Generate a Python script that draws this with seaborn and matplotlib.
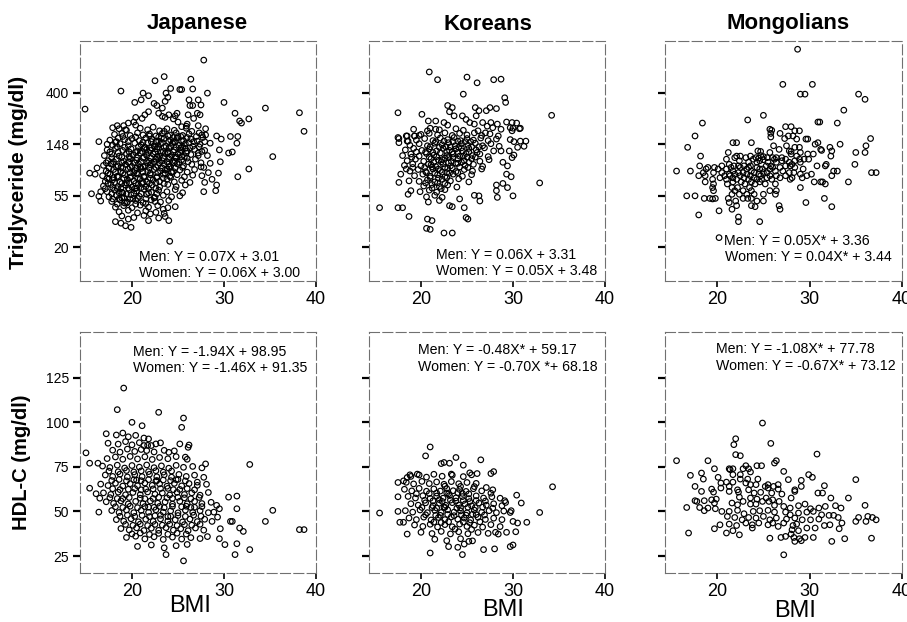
import matplotlib
matplotlib.use("Agg")
import matplotlib.pyplot as plt
import pandas as pd
import seaborn as sns

sns.set_style("ticks")
plt.rcParams["font.family"] = ["Liberation Sans", "DejaVu Sans"]
for key in ["text.color", "axes.labelcolor", "xtick.color", "ytick.color"]:
    plt.rcParams[key] = "black"

# ---------------- chart values ----------------
populations = ["Japanese", "Koreans", "Mongolians"]
bmi_ticks = [20, 30, 40]
tg_ticks = [3, 4, 5, 6]                 # natural log of triglyceride
tg_tick_labels = ["20", "55", "148", "400"]
hdl_ticks = [25, 50, 75, 100, 125]

tg_equations = [
    ("Men: Y = 0.07X + 3.01", "Women: Y = 0.06X + 3.00"),
    ("Men: Y = 0.06X + 3.31", "Women: Y = 0.05X + 3.48"),
    ("Men: Y = 0.05X* + 3.36", "Women: Y = 0.04X* + 3.44"),
]
hdl_equations = [
    ("Men: Y = -1.94X + 98.95", "Women: Y = -1.46X + 91.35"),
    ("Men: Y = -0.48X* + 59.17", "Women: Y = -0.70X *+ 68.18"),
    ("Men: Y = -1.08X* + 77.78", "Women: Y = -0.67X* + 73.12"),
]

# (BMI, ln TG) -- Japanese
jp_tg_points = [
    (14.9,5.68),(27.8,6.63),(23.5,6.31),(22.5,6.23),(26.4,6.26),(18.8,6.03),(21.2,5.99),(21.8,5.94),
    (24.2,6.08),(25.2,6.06),(25.4,6.06),(26.6,6.07),(28.2,5.99),(30.0,5.81),(20.3,5.81),(21.0,5.86),
    (23.7,5.99),(23.9,5.91),(23.6,5.83),(26.2,5.86),(27.2,5.86),(27.5,5.76),(31.2,5.60),(32.7,5.49),
    (31.7,5.45),(31.9,5.41),(34.5,5.70),(38.2,5.61),(38.7,5.25),(35.3,4.76),(32.7,4.52),(31.5,4.37),
    (29.6,4.66),(29.4,4.44),(29.2,4.21),(29.1,4.10),(27.8,4.08),(30.7,5.15),(31.4,5.02),(31.5,5.15),
    (30.9,4.85),(30.5,4.83),(29.2,5.16),(29.7,5.10),(28.5,4.63),(29.5,4.89),(24.1,3.12),(15.4,4.44),
    (16.0,4.42),(16.4,5.05),(17.3,5.00),(15.6,4.04),(16.6,4.08),(16.4,3.99),(16.6,3.90),(16.2,4.54),
    (17.9,5.32),(18.3,5.05),(18.2,3.50),(18.8,3.47),(19.3,3.42),(19.9,3.39),(19.6,3.55),(21.8,3.52),
    (22.0,3.65),(24.0,3.52),(23.6,3.60),(23.4,3.74),(22.5,3.89),(24.7,3.79),
    (26.3,5.75),(26.6,5.75),(27.1,5.60),(27.4,5.57),(26.7,5.50),(27.2,5.36),(26.1,5.57),
    (22.4,5.79),(22.7,5.75),(23.3,5.70),(22.9,5.60),(23.3,5.54),(23.6,5.52),(24.0,5.57),(24.7,5.55),
    (24.5,5.49),(25.0,5.43),(24.9,5.60),(25.4,5.34),(26.0,5.39),(21.8,5.63),(21.4,5.57),(21.1,5.50),
    (20.4,5.52),(20.2,5.43),(19.6,5.41),(19.1,5.36),(19.3,5.28),(20.4,5.37),(18.4,5.36),
    (18.6,5.30),(19.4,5.27),(20.9,5.31),(21.7,5.28),(22.3,5.33),(23.0,5.26),(23.8,5.30),(24.6,5.27),
    (25.9,5.31),(26.5,5.25),(27.3,5.22),
    (18.1,5.19),(18.9,5.21),(19.8,5.17),(20.6,5.22),(21.2,5.18),(21.9,5.20),(22.6,5.16),(23.3,5.21),
    (24.1,5.18),(24.8,5.22),(25.5,5.17),(26.2,5.20),(27.0,5.15),(28.0,5.18),
    (17.6,5.08),(18.5,5.12),(19.2,5.09),(20.0,5.11),(20.8,5.07),(21.5,5.12),(22.2,5.10),(22.9,5.06),
    (23.5,5.11),(24.2,5.08),(24.9,5.12),(25.6,5.07),(26.4,5.10),(27.1,5.06),(27.7,5.13),
    (17.9,4.98),(18.7,5.01),(19.6,4.97),(20.3,5.02),(21.0,4.99),(21.7,5.03),(22.4,4.97),(23.1,5.01),
    (23.7,4.96),(24.4,5.02),(25.1,4.98),(25.8,5.01),(26.6,4.96),(27.4,5.00),
    (17.3,4.89),(18.2,4.92),(19.0,4.88),(19.9,4.91),(20.6,4.87),(21.3,4.92),(22.0,4.88),(22.7,4.91),
    (23.4,4.86),(24.0,4.92),(24.6,4.89),(25.3,4.93),(26.0,4.87),(26.8,4.90),(27.6,4.86),
    (17.0,4.78),(17.8,4.81),(18.6,4.77),(19.4,4.82),(20.1,4.79),(20.9,4.83),(21.6,4.78),(22.3,4.81),
    (23.0,4.77),(23.6,4.82),(24.3,4.78),(25.0,4.81),(25.7,4.76),(26.4,4.80),(27.2,4.83),
    (17.4,4.68),(18.3,4.71),(19.1,4.67),(19.8,4.72),(20.5,4.69),(21.2,4.73),(21.9,4.67),(22.6,4.71),
    (23.3,4.68),(24.0,4.72),(24.7,4.67),(25.4,4.70),(26.1,4.66),(26.9,4.71),
    (16.9,4.59),(17.7,4.62),(18.5,4.58),(19.3,4.61),(20.0,4.57),(20.7,4.62),(21.4,4.58),(22.1,4.63),
    (22.8,4.59),(23.5,4.61),(24.2,4.57),(24.9,4.62),(25.6,4.58),(26.5,4.61),(27.5,4.56),
    (17.2,4.48),(18.0,4.51),(18.8,4.47),(19.6,4.52),(20.3,4.49),(21.0,4.53),(21.7,4.47),(22.4,4.51),
    (23.1,4.48),(23.8,4.52),(24.5,4.47),(25.2,4.50),(26.0,4.46),(26.8,4.51),
    (16.8,4.39),(17.6,4.42),(18.4,4.38),(19.2,4.41),(19.9,4.37),(20.6,4.42),(21.3,4.38),(22.0,4.41),
    (22.7,4.37),(23.4,4.42),(24.1,4.38),(24.9,4.41),(25.7,4.37),(26.6,4.40),
    (17.1,4.28),(17.9,4.31),(18.7,4.27),(19.5,4.32),(20.2,4.29),(20.9,4.33),(21.6,4.27),(22.3,4.31),
    (23.0,4.28),(23.8,4.32),(24.6,4.27),(25.4,4.30),(26.3,4.26),
    (16.9,4.19),(17.7,4.22),(18.5,4.18),(19.3,4.21),(20.0,4.17),(20.7,4.22),(21.5,4.18),(22.2,4.21),
    (23.0,4.17),(23.9,4.22),(24.8,4.18),(25.8,4.21),
    (17.3,4.08),(18.1,4.11),(18.9,4.07),(19.7,4.12),(20.5,4.09),(21.3,4.13),(22.1,4.07),(22.9,4.11),
    (23.8,4.08),(24.7,4.12),(25.5,4.06),
    (17.5,3.98),(18.3,4.01),(19.1,3.97),(19.9,4.02),(20.8,3.99),(21.6,4.03),(22.5,3.97),(23.4,4.01),
    (24.3,3.98),(25.2,4.00),
    (17.8,3.89),(18.7,3.92),(19.5,3.88),(20.4,3.91),(21.2,3.87),(22.1,3.92),(23.1,3.88),(24.0,3.91),
    (18.2,3.78),(19.1,3.81),(20.0,3.77),(20.9,3.82),(21.8,3.78),(22.8,3.81),(23.9,3.77),
    (18.6,3.69),(19.6,3.72),(20.6,3.67),(21.5,3.71),(22.6,3.68),(23.5,3.66),
    (18.9,3.61),(20.2,3.58),(21.3,3.62),(22.9,3.57),
    (18.0,4.35),(18.8,4.55),(19.4,4.25),(19.0,4.05),(20.2,4.45),(20.5,4.15),(19.7,4.66),(18.4,4.14),
    (17.9,4.62),(20.9,4.56),(19.2,3.86),(20.1,3.95),(18.6,3.95),(21.1,4.24),(17.5,4.33),
    (22.5,4.95),(23.2,5.12),(23.9,4.85),(24.5,5.05),(22.9,4.72),(24.0,4.62),(24.7,4.75),(25.3,4.88),
    (23.5,5.25),(22.1,5.05),(25.0,5.15),(25.8,4.92),(24.3,4.45),(23.6,4.50),(22.0,4.60),(21.6,4.90),
    (26.0,4.73),(25.5,4.55),(26.7,5.05),(25.9,5.35),
    (27.6,5.18),(27.9,5.05),(27.3,4.95),(27.9,4.88),(28.2,4.78),(27.2,4.78),(27.5,4.64),(27.8,4.55),
    (28.3,4.45),(27.6,4.39),(27.9,4.26),(28.7,4.32),(28.0,5.30),(28.5,5.02),
    (19.0,5.15),(20.4,5.14),(21.9,5.16),(22.9,5.14),(23.9,5.16),(24.5,5.13),(25.3,5.15),(26.0,5.13),
    (18.2,5.04),(19.6,5.05),(21.2,5.04),(22.6,5.05),(23.3,5.03),(24.0,5.05),(24.7,5.04),(25.4,5.06),
    (26.2,5.03),(18.4,4.95),(19.2,4.94),(20.7,4.95),(21.4,4.94),(22.1,4.93),(22.8,4.95),(23.5,4.94),
    (24.2,4.96),(24.8,4.94),(25.5,4.95),(26.3,4.93),
    (17.6,4.85),(18.5,4.84),(19.7,4.85),(20.4,4.84),(21.1,4.86),(21.8,4.84),(22.5,4.85),(23.2,4.84),
    (23.9,4.83),(24.5,4.85),(25.2,4.84),(25.9,4.83),
    (17.8,4.74),(18.9,4.75),(19.7,4.76),(20.5,4.74),(21.3,4.75),(22.0,4.74),(22.7,4.76),(23.4,4.74),
    (24.1,4.75),(24.8,4.74),(25.4,4.76),
    (17.2,4.64),(18.0,4.66),(18.9,4.64),(19.6,4.65),(20.3,4.64),(21.0,4.66),(21.7,4.64),(22.4,4.65),
    (23.0,4.64),(23.8,4.66),(24.5,4.64),(25.1,4.65),
    (17.5,4.54),(18.3,4.56),(19.0,4.54),(19.8,4.55),(20.5,4.54),(21.2,4.56),(21.9,4.54),(22.6,4.55),
    (23.3,4.54),(24.0,4.56),(24.7,4.54),
    (17.4,4.44),(18.2,4.46),(19.0,4.44),(19.8,4.45),(20.5,4.44),(21.2,4.46),(22.0,4.44),(22.8,4.45),
    (23.6,4.44),(24.3,4.46),
    (17.3,4.34),(18.5,4.36),(19.1,4.34),(19.8,4.35),(20.6,4.34),(21.3,4.36),(22.0,4.34),(22.7,4.35),
    (23.4,4.34),(24.2,4.36),
    (17.4,4.24),(18.1,4.26),(18.9,4.24),(19.7,4.25),(20.4,4.24),(21.2,4.26),(21.9,4.24),(22.6,4.25),
    (23.5,4.24),
    (17.1,4.14),(17.9,4.16),(18.8,4.14),(19.6,4.15),(20.3,4.14),(21.0,4.16),(21.8,4.14),(22.6,4.15),
    (17.8,4.04),(18.6,4.06),(19.4,4.04),(20.2,4.05),(21.0,4.04),(21.8,4.06),(22.7,4.04),
    (17.9,3.94),(18.9,3.96),(19.8,3.94),(20.6,3.95),(21.5,3.94),(22.4,3.96),
    (18.4,3.84),(19.4,3.86),(20.4,3.84),(21.5,3.85),
]

# (BMI, ln TG) -- Koreans
ko_tg_points = [
    (20.9,6.40),(21.8,6.25),(25.0,6.30),(26.1,6.19),(27.9,6.25),(28.7,6.26),(24.6,5.97),(29.1,5.90),
    (29.2,5.81),(34.2,5.56),(32.9,4.25),(30.0,4.00),(15.5,3.77),(17.5,3.77),(18.0,3.77),(18.7,3.60),
    (20.7,3.55),(21.2,3.52),(20.6,3.37),(21.0,3.35),(22.5,3.28),(23.4,3.28),(17.5,5.61),(20.1,5.58),
    (22.9,5.75),(23.4,5.71),(23.1,5.63),(23.6,5.55),(25.9,5.71),(26.3,5.65),(27.1,5.65),(27.5,5.71),
    (28.2,5.69),(20.8,5.45),(21.6,5.45),(22.5,5.42),(22.9,5.37),(24.5,5.55),(24.9,5.48),(25.3,5.42),
    (25.8,5.39),(26.0,5.55),(26.7,5.42),(27.2,5.35),(27.6,5.42),(27.8,5.32),(28.3,5.39),(28.7,5.29),
    (29.3,5.43),(29.9,5.42),(29.7,5.32),(29.9,5.26),(30.7,5.30),(17.6,5.11),(18.4,5.16),(18.5,5.06),
    (19.3,5.16),(19.2,5.29),(20.0,5.19),(20.7,5.26),(21.6,5.29),
    (30.4,5.41),(30.8,5.31),(30.0,5.31),(29.7,5.09),(30.1,5.05),(30.8,5.06),(31.4,5.06),(31.2,4.96),
    (30.5,4.94),(29.6,4.87),(30.1,4.79),(29.9,4.74),(28.7,4.87),(28.9,4.65),(29.4,4.58),(29.3,4.42),
    (29.8,4.37),(28.9,4.24),(28.2,4.21),(29.4,4.16),(28.2,4.10),(28.3,3.97),(26.3,4.00),(26.4,3.90),
    (25.8,4.01),(24.2,3.94),(23.1,3.81),(23.4,3.79),(24.7,3.77),(24.9,3.58),(25.1,3.55),
    (17.5,5.13),(17.6,5.03),(18.5,5.16),(18.6,5.06),(19.3,5.16),(17.8,4.42),(17.6,4.26),(18.4,4.52),
    (18.7,4.29),(18.9,4.10),(18.6,4.03),
    (21.0,5.31),(22.0,5.28),(23.8,5.30),(24.6,5.27),(26.2,5.26),(27.0,5.22),
    (19.8,5.17),(20.9,5.21),(21.8,5.18),(22.6,5.22),(23.4,5.17),(24.2,5.21),(25.0,5.18),(25.8,5.22),
    (26.6,5.17),(27.5,5.20),(28.4,5.16),
    (19.5,5.08),(20.4,5.11),(21.3,5.07),(22.1,5.12),(22.9,5.09),(23.6,5.13),(24.3,5.07),(25.0,5.11),
    (25.7,5.08),(26.5,5.12),(27.3,5.07),(28.2,5.10),
    (18.8,4.98),(19.8,5.01),(20.7,4.97),(21.5,5.02),(22.3,4.99),(23.0,5.03),(23.7,4.97),(24.4,5.01),
    (25.1,4.98),(25.9,5.02),(26.7,4.97),(27.6,5.01),(28.5,4.96),
    (18.3,4.89),(19.2,4.92),(20.1,4.88),(20.9,4.91),(21.7,4.87),(22.4,4.92),(23.1,4.88),(23.8,4.91),
    (24.5,4.87),(25.2,4.92),(26.0,4.89),(26.9,4.93),(27.9,4.87),
    (18.0,4.78),(18.9,4.81),(19.8,4.77),(20.6,4.82),(21.4,4.79),(22.1,4.83),(22.8,4.78),(23.5,4.81),
    (24.2,4.77),(24.9,4.82),(25.6,4.78),(26.4,4.81),(27.3,4.76),
    (18.5,4.68),(19.4,4.71),(20.3,4.67),(21.1,4.72),(21.9,4.69),(22.6,4.73),(23.3,4.67),(24.0,4.71),
    (24.7,4.68),(25.5,4.72),(26.4,4.67),(27.4,4.70),
    (18.2,4.59),(19.1,4.62),(20.0,4.58),(20.8,4.61),(21.6,4.57),(22.4,4.62),(23.2,4.58),(24.0,4.63),
    (24.8,4.59),(25.7,4.61),(26.7,4.57),
    (18.8,4.48),(19.7,4.51),(20.5,4.47),(21.3,4.52),(22.1,4.49),(22.9,4.53),(23.8,4.47),(24.7,4.51),
    (25.6,4.48),(26.6,4.52),
    (19.3,4.39),(20.2,4.42),(21.0,4.38),(21.8,4.41),(22.6,4.37),(23.5,4.42),(24.5,4.38),(25.5,4.41),
    (19.8,4.28),(20.7,4.31),(21.5,4.27),(22.3,4.32),(23.2,4.29),(24.1,4.33),(25.2,4.27),
    (20.3,4.19),(21.2,4.22),(22.0,4.18),(22.9,4.21),(23.9,4.17),
    (19.9,4.08),(20.9,4.11),(21.7,4.07),(22.6,4.12),
    (20.6,3.98),(21.5,4.01),(22.3,3.97),(20.8,3.88),(22.0,3.91),
    (22.7,4.95),(23.4,4.85),(24.1,4.94),(23.0,4.74),(23.8,4.63),(24.6,4.77),(22.3,4.70),(23.5,5.05),
    (24.8,5.05),(21.9,4.52),(22.8,4.45),(21.1,4.60),
    (21.6,5.05),(22.5,5.06),(24.0,5.06),(25.4,5.05),(21.0,4.95),(22.0,4.94),(23.2,4.95),(24.4,4.93),
    (25.5,4.95),(26.3,4.95),(20.5,4.85),(21.3,4.84),(22.8,4.86),(24.0,4.84),(25.2,4.85),(26.1,4.84),
    (20.9,4.75),(21.7,4.76),(23.5,4.74),(25.0,4.75),(25.9,4.75),(21.4,4.65),(22.2,4.66),(23.0,4.64),
    (24.4,4.65),(25.2,4.65),(20.4,4.55),(21.2,4.56),(22.6,4.55),(23.4,4.54),(24.2,4.56),(25.1,4.55),
    (20.6,4.45),(21.5,4.44),(22.3,4.46),(23.1,4.44),(24.0,4.45),(21.0,4.35),(21.9,4.34),(22.8,4.35),
    (20.5,4.25),(21.8,4.25),(22.6,4.24),(21.2,4.15),(22.2,4.14),(19.0,4.75),(19.5,4.85),(19.1,4.55),
]

# (BMI, ln TG) -- Mongolians
mo_tg_points = [
    (28.7,6.84),(27.1,6.16),(30.3,6.16),(29.0,5.97),(29.5,5.97),(35.3,5.97),(36.0,5.87),(33.7,5.66),
    (25.0,5.56),(23.3,5.47),(30.9,5.43),(31.1,5.43),(18.4,5.41),(33.0,5.41),
    (27.4,5.34),(28.0,5.34),(25.7,5.29),(25.9,5.27),(28.4,5.26),(28.9,5.26),(25.8,5.21),(26.8,5.21),
    (17.6,5.16),(27.7,5.16),(28.2,5.16),(25.8,5.14),(27.3,5.11),(36.6,5.11),(29.6,5.10),(29.8,5.10),
    (28.6,5.10),(21.7,5.03),(22.1,5.03),(23.7,5.03),(30.9,5.03),(30.6,5.00),(33.3,5.00),(26.1,4.97),
    (27.5,4.97),(36.1,4.97),(16.8,4.94),(28.4,4.94),(32.2,4.94),(28.9,4.94),(26.7,4.90),(31.2,4.90),
    (31.3,4.88),(27.8,4.87),(28.0,4.86),(24.4,4.87),(24.7,4.86),(32.4,4.87),(21.2,4.84),(25.7,4.84),
    (29.0,4.84),(35.0,4.84),(36.0,4.84),(28.0,4.81),(29.8,4.81),(30.4,4.81),
    (18.2,4.77),(22.1,4.77),(22.5,4.77),(23.6,4.77),(24.7,4.78),(25.0,4.76),(28.6,4.77),(32.3,4.77),
    (21.9,4.74),(23.1,4.74),(24.2,4.74),(24.5,4.73),(25.4,4.74),(26.0,4.74),(26.4,4.74),(27.0,4.74),
    (21.0,4.71),(23.9,4.71),(25.0,4.70),(26.2,4.71),(27.4,4.71),(28.9,4.71),(29.4,4.71),(29.9,4.71),
    (22.4,4.68),(24.6,4.68),(27.0,4.68),(28.4,4.68),
    (23.4,4.65),(24.3,4.65),(25.5,4.65),(26.4,4.65),(27.8,4.65),(29.0,4.65),
    (21.3,4.61),(28.1,4.61),(31.8,4.61),(34.9,4.61),
    (18.1,4.58),(20.5,4.58),(21.8,4.58),(22.3,4.58),(22.9,4.58),(23.6,4.58),(25.3,4.58),(25.8,4.58),
    (27.4,4.58),(27.9,4.58),(30.8,4.58),(31.7,4.58),
    (19.0,4.55),(19.7,4.55),(21.5,4.55),(22.5,4.55),(23.4,4.55),(24.3,4.55),(26.0,4.55),(26.8,4.55),
    (28.4,4.55),
    (18.8,4.52),(20.1,4.52),(21.0,4.52),(23.2,4.52),(24.6,4.52),(24.9,4.52),(25.7,4.52),(29.3,4.52),
    (32.6,4.48),(33.0,4.48),(17.1,4.48),(15.6,4.48),(21.7,4.48),(23.7,4.48),(26.3,4.48),(27.1,4.48),
    (18.5,4.45),(19.6,4.45),(20.5,4.45),(22.3,4.45),(22.8,4.45),(24.0,4.45),(25.0,4.45),(25.4,4.45),
    (27.8,4.45),(28.3,4.45),(36.7,4.45),(37.2,4.45),
    (21.3,4.42),(21.9,4.42),(23.2,4.42),(24.5,4.42),(29.0,4.42),(30.2,4.42),
    (18.0,4.39),(18.7,4.39),(20.8,4.39),(21.4,4.39),(22.5,4.39),(23.6,4.39),(24.7,4.39),(25.7,4.39),
    (26.4,4.39),(27.4,4.39),(29.7,4.39),(32.4,4.39),
    (20.3,4.35),(21.7,4.35),(22.9,4.35),(24.0,4.35),(25.4,4.35),(26.8,4.35),(28.1,4.35),(29.2,4.35),
    (19.5,4.32),(21.0,4.32),(22.1,4.32),(23.4,4.32),(24.3,4.32),(24.8,4.32),(25.9,4.32),(27.9,4.32),
    (18.7,4.27),(21.7,4.27),(22.6,4.27),(23.7,4.27),(24.6,4.27),(30.5,4.27),(31.2,4.27),(31.4,4.27),
    (34.2,4.27),
    (19.6,4.23),(21.1,4.23),(23.0,4.23),(24.1,4.23),(25.2,4.23),(26.3,4.23),(31.7,4.23),
    (19.5,4.16),(21.6,4.16),(22.2,4.16),(23.5,4.16),(29.0,4.16),
    (19.6,4.10),(21.9,4.10),(22.8,4.10),(23.7,4.10),(25.7,4.10),(26.4,4.10),
    (21.6,4.03),(22.4,4.03),(23.2,4.03),(24.0,4.03),(25.0,4.03),(26.3,4.03),
    (16.7,4.00),(17.6,4.00),
    (18.6,3.95),(19.2,3.95),(19.5,3.94),(19.8,3.95),(21.2,3.95),(22.8,3.95),(23.3,3.95),(23.7,3.95),
    (31.6,3.95),(22.0,3.90),(24.3,3.90),(25.0,3.90),(21.3,3.87),(29.6,3.87),
    (22.1,3.81),(23.7,3.81),(26.7,3.81),(32.4,3.79),(24.1,3.79),(26.8,3.74),(21.6,3.74),
    (20.2,3.71),(18.0,3.63),(22.3,3.59),(22.3,3.50),(24.6,3.50),(20.2,3.19),
]

# (BMI, HDL-C mg/dl) -- Japanese
jp_hdl_points = [
    (19.1,119.1),(18.4,107.0),(22.9,105.5),(25.6,102.3),(25.4,97.1),(20.0,99.9),(21.1,98.0),
    (15.0,82.8),(15.4,77.0),(16.3,77.0),(15.4,63.0),(16.1,59.9),(16.4,49.6),(16.5,57.4),
    (32.8,76.3),(30.5,58.0),(31.4,58.6),(31.4,51.5),(30.7,44.4),(30.9,44.4),(29.6,40.3),(29.5,34.7),
    (30.1,31.4),(31.4,31.9),(31.2,25.8),(32.8,28.6),(32.1,38.8),(31.7,40.7),(35.3,50.6),(34.5,44.4),
    (38.2,39.8),(38.7,39.8),(25.6,22.3),(23.7,25.8),(28.9,49.6),(29.2,53.4),(29.5,51.5),(29.3,46.8),
    (28.0,76.6),(27.1,66.4),(26.1,85.9),(25.8,80.4),(26.2,87.2),(25.2,87.8),(24.0,83.1),(21.8,90.6),
    (22.1,86.9),(22.6,87.8),(21.3,86.9),(21.6,84.1),
    (17.2,93.5),(18.3,92.8),(19.0,93.9),(19.6,91.8),(20.4,92.6),(21.3,91.1),
    (17.4,88.2),(18.5,87.7),(19.3,89.1),(20.0,87.3),(20.8,88.5),(21.7,87.0),(23.1,88.4),
    (17.9,84.3),(18.7,83.2),(19.5,84.9),(20.3,83.6),(21.0,84.7),(22.4,83.3),(23.5,84.2),(24.6,83.9),
    (17.3,79.6),(18.2,80.5),(19.0,79.2),(19.8,80.8),(20.6,79.4),(21.4,80.6),(22.2,79.1),(23.0,80.2),
    (23.9,79.5),(24.8,80.7),(26.0,79.2),
    (16.8,75.4),(17.6,74.6),(18.4,75.9),(19.2,74.3),(20.0,75.7),(20.8,74.8),(21.6,76.0),(22.4,74.5),
    (23.2,75.5),(24.0,74.2),(24.8,75.8),(25.6,74.7),(26.6,75.2),(27.6,74.4),
    (17.1,70.4),(17.9,69.6),(18.7,70.9),(19.5,69.3),(20.3,70.6),(21.1,69.5),(21.9,70.8),(22.7,69.4),
    (23.5,70.5),(24.3,69.2),(25.1,70.7),(25.9,69.6),(26.8,70.3),(27.8,69.1),
    (16.6,65.3),(17.4,64.5),(18.2,65.8),(19.0,64.2),(19.8,65.5),(20.6,64.4),(21.4,65.9),(22.2,64.6),
    (23.0,65.4),(23.8,64.1),(24.6,65.7),(25.4,64.3),(26.2,65.6),(27.1,64.6),(28.1,65.2),
    (16.9,60.4),(17.7,59.5),(18.5,60.8),(19.3,59.3),(20.1,60.6),(20.9,59.4),(21.7,60.9),(22.5,59.6),
    (23.3,60.3),(24.1,59.2),(24.9,60.7),(25.7,59.5),(26.5,60.4),(27.4,59.1),(28.3,60.6),
    (17.2,55.4),(18.0,54.5),(18.8,55.9),(19.6,54.2),(20.4,55.6),(21.2,54.4),(22.0,55.8),(22.8,54.6),
    (23.6,55.3),(24.4,54.1),(25.2,55.7),(26.0,54.3),(26.8,55.6),(27.6,54.4),(28.6,55.1),
    (17.8,50.5),(18.6,49.4),(19.4,50.8),(20.2,49.3),(21.0,50.6),(21.8,49.5),(22.6,50.9),(23.4,49.6),
    (24.2,50.3),(25.0,49.2),(25.8,50.7),(26.6,49.5),(27.4,50.4),(28.3,49.3),
    (18.3,45.4),(19.1,44.5),(19.9,45.9),(20.7,44.2),(21.5,45.6),(22.3,44.4),(23.1,45.8),(23.9,44.6),
    (24.7,45.3),(25.5,44.1),(26.3,45.7),(27.1,44.3),(27.9,45.6),(28.7,44.4),
    (18.8,40.4),(19.7,39.6),(20.5,40.8),(21.3,39.3),(22.1,40.6),(22.9,39.4),(23.7,40.9),(24.5,39.5),
    (25.3,40.3),(26.1,39.2),(26.9,40.7),(27.8,39.5),
    (19.4,35.4),(20.4,36.1),(21.4,34.6),(22.4,35.8),(23.4,34.3),(24.4,35.6),(25.4,34.5),(26.4,35.3),
    (27.4,34.8),(28.2,35.9),
    (20.6,30.4),(22.1,31.2),(23.5,29.6),(24.8,30.8),(26.0,31.5),
    (21.5,62.5),(22.3,57.2),(23.1,62.8),(23.8,57.6),(24.5,62.2),(22.7,67.3),(21.8,52.4),(23.0,52.8),
    (24.2,47.3),(25.4,52.6),(22.5,47.6),(20.9,57.4),(25.0,57.9),(26.4,52.2),(24.8,67.8),(20.5,67.5),
    (19.6,62.4),(19.0,57.2),
    (17.5,72.6),(18.5,72.2),(19.4,72.9),(20.2,72.1),(21.0,72.7),(21.8,72.3),(22.6,72.8),(23.4,72.0),
    (24.3,72.6),(17.8,67.3),(18.6,67.9),(19.4,67.1),(20.2,67.7),(21.0,67.2),(21.8,67.8),(22.6,67.0),
    (23.4,67.6),(24.2,67.2),(25.0,67.9),(25.8,67.1),
    (17.9,62.7),(18.7,62.2),(20.3,62.8),(21.0,62.1),(22.3,62.6),(23.9,62.9),(25.2,62.3),(26.0,62.8),
    (26.8,62.1),(17.6,57.7),(18.4,57.2),(19.7,57.8),(21.4,57.1),(22.9,57.9),(24.4,57.3),(25.7,57.6),
    (26.4,57.1),(27.3,57.8),
    (18.2,52.6),(19.0,52.2),(19.8,52.9),(20.6,52.1),(21.4,52.7),(22.4,52.3),(23.5,52.1),(24.4,52.8),
    (25.9,52.9),(26.8,52.3),(27.6,52.7),
    (18.7,47.3),(19.5,47.9),(20.3,47.2),(21.1,47.8),(21.9,47.1),(23.1,47.8),(23.9,47.1),(25.0,47.7),
    (25.8,47.2),(26.7,47.9),(27.5,47.3),
    (19.3,42.7),(20.1,42.2),(20.9,42.9),(21.7,42.1),(22.5,42.7),(23.3,42.3),(24.1,42.8),(24.9,42.1),
    (25.7,42.6),(26.5,42.3),(27.4,42.8),
    (20.0,37.4),(20.9,37.9),(21.9,37.1),(22.9,37.7),(23.9,37.2),(24.9,37.8),(25.9,37.3),
]

# (BMI, HDL-C mg/dl) -- Koreans
ko_hdl_points = [
    (21.0,86.1),(20.5,81.1),(23.8,80.2),(26.5,78.9),(22.2,76.8),(22.5,77.4),(23.1,77.0),(24.6,75.9),
    (23.3,70.9),(25.5,70.5),(26.1,71.2),(27.6,71.2),(27.9,72.3),(27.1,63.4),(27.6,60.2),(29.1,56.0),
    (29.2,55.0),(29.8,50.4),(29.7,49.4),(30.4,59.1),(30.9,54.7),(32.9,49.4),(34.3,63.8),(15.5,49.1),
    (17.5,50.0),(18.5,37.3),(21.0,26.7),(24.5,25.8),(26.8,28.6),(28.0,29.0),(29.7,30.3),(30.0,31.2),
    (23.0,30.3),(24.0,29.9),(24.7,31.7),(25.2,33.2),(28.1,38.3),(28.4,37.3),(29.3,38.3),(30.3,38.6),
    (30.5,43.5),(30.0,44.4),(31.5,43.9),(17.5,66.2),(18.1,67.1),(18.5,69.0),(18.8,70.5),(19.6,70.9),
    (17.5,58.2),(17.7,43.9),(18.1,43.9),
    (18.9,69.6),(19.8,70.4),(20.6,69.2),(21.4,70.8),(22.3,69.7),(23.4,70.3),(24.6,69.5),(25.3,71.6),
    (18.4,66.3),(19.2,65.4),(20.1,66.8),(20.9,65.6),(21.7,66.5),(22.5,65.2),(23.3,66.7),(24.1,65.5),
    (25.0,66.2),(26.0,65.7),
    (18.2,62.4),(19.0,61.5),(19.8,62.9),(20.6,61.3),(21.4,62.6),(22.1,61.4),(22.8,62.8),(23.5,61.6),
    (24.2,62.3),(24.9,61.2),(25.7,62.7),(26.6,61.5),(27.8,62.1),
    (18.6,58.4),(19.4,57.5),(20.2,58.8),(21.0,57.3),(21.7,58.6),(22.4,57.4),(23.1,58.9),(23.8,57.6),
    (24.5,58.3),(25.2,57.2),(26.0,58.7),(26.8,57.5),(27.7,58.2),(28.6,57.4),
    (18.9,54.3),(19.7,53.5),(20.5,54.8),(21.3,53.2),(22.0,54.6),(22.7,53.4),(23.4,54.9),(24.1,53.6),
    (24.8,54.2),(25.5,53.1),(26.3,54.7),(27.1,53.5),(27.9,54.3),(28.8,53.2),
    (18.3,50.4),(19.1,49.6),(19.9,50.8),(20.7,49.3),(21.5,50.6),(22.2,49.4),(22.9,50.9),(23.6,49.6),
    (24.3,50.3),(25.0,49.2),(25.8,50.7),(26.6,49.5),(27.4,50.4),(28.2,49.3),(29.0,50.2),
    (18.7,46.3),(19.5,45.4),(20.3,46.8),(21.1,45.2),(21.9,46.6),(22.6,45.4),(23.3,46.9),(24.0,45.6),
    (24.7,46.3),(25.4,45.2),(26.2,46.7),(27.0,45.5),(27.9,46.2),(28.8,45.4),
    (19.3,42.4),(20.2,41.6),(21.0,42.8),(21.8,41.3),(22.6,42.6),(23.4,41.4),(24.2,42.9),(25.0,41.6),
    (25.8,42.3),(26.7,41.2),(27.6,42.6),(28.6,41.5),
    (20.0,38.3),(21.2,37.6),(22.2,38.8),(23.2,37.4),(24.1,38.6),(25.1,37.5),(26.2,38.2),(27.3,37.7),
    (21.5,34.4),(22.8,33.6),(24.3,34.7),(25.6,33.5),
    (22.5,52.2),(23.2,56.3),(23.9,51.8),(24.6,56.1),(22.0,56.6),(21.6,47.8),(23.0,44.2),(24.4,48.1),
    (25.1,52.3),(21.2,52.1),(22.8,60.3),(24.0,60.5),(25.6,48.4),(20.4,56.2),(23.6,47.6),
    (20.9,60.0),(21.7,60.3),(23.0,59.9),(24.5,60.1),(25.2,59.8),(21.3,55.9),(22.3,55.6),(23.8,55.8),
    (25.3,55.5),(26.0,56.1),(20.1,52.2),(21.7,51.9),(22.6,52.3),(24.3,52.0),(25.9,52.1),(26.7,52.4),
    (20.5,48.1),(22.1,47.8),(22.9,48.3),(24.9,47.9),(26.0,48.2),(26.9,48.0),(21.4,44.0),(22.2,43.8),
    (24.6,44.1),(25.3,43.7),(26.4,44.2),(23.7,40.1),(25.5,39.9),(22.6,64.1),(24.3,64.0),(25.8,63.9),
    (19.5,59.9),(27.0,55.8),(27.8,51.8),
]

# (BMI, HDL-C mg/dl) -- Mongolians
mo_hdl_points = [
    (24.9,99.5),(22.0,90.7),(21.8,87.4),(25.8,88.1),(22.0,81.8),(22.5,81.2),(30.8,82.1),(15.6,78.4),
    (19.0,78.4),(26.4,78.4),(26.2,77.1),(23.1,75.6),(24.3,75.6),(24.8,75.6),
    (19.7,73.9),(21.3,73.9),(21.7,73.9),(22.8,73.9),(23.4,73.9),(23.6,72.1),(21.4,73.4),(27.2,72.4),
    (18.3,71.5),(17.1,70.2),(21.7,70.6),(22.5,70.6),(29.9,70.6),(30.3,69.1),
    (18.5,68.1),(20.1,69.1),(21.0,66.4),(22.5,68.1),(23.3,68.1),(24.4,68.1),(25.5,65.0),(26.6,65.0),
    (27.7,67.8),(29.1,67.4),(20.4,65.9),(21.7,66.4),(23.1,65.9),(23.6,65.0),(24.2,65.0),(25.2,64.0),
    (26.1,64.0),(19.4,62.5),(17.6,64.0),(20.4,63.1),(21.3,64.0),(22.2,62.1),(23.4,62.1),(25.5,63.1),
    (26.6,62.5),(28.4,62.1),(29.1,64.0),(31.6,64.4),(35.0,67.8),
    (18.3,61.2),(19.6,60.8),(21.3,61.2),(22.3,60.8),(24.0,60.3),(24.7,60.7),(25.9,60.3),(27.0,59.7),
    (28.4,61.2),(30.9,60.3),(31.4,60.3),(32.3,57.5),
    (19.9,56.9),(19.4,56.5),(18.6,56.0),(17.6,56.0),(22.4,58.0),(23.6,57.5),(24.3,56.9),(25.3,57.5),
    (26.0,56.5),(28.0,57.5),(29.5,54.1),(31.7,52.8),(34.2,57.5),
    (17.8,55.6),(18.1,52.2),(19.0,51.9),(19.7,54.7),(21.6,54.7),(22.2,53.7),(22.8,55.6),(23.6,54.1),
    (24.2,54.1),(24.9,55.6),(25.6,55.6),(26.2,53.4),(26.7,55.6),(27.2,52.8),(27.9,51.9),(28.8,53.2),
    (30.1,51.5),(31.0,51.9),(32.8,53.2),(36.0,53.4),(33.4,51.9),(16.7,52.2),
    (18.6,50.4),(19.8,51.5),(20.5,50.0),(21.3,50.0),(22.2,50.6),(22.9,48.7),(23.9,50.0),(24.6,50.4),
    (25.5,50.6),(26.2,49.6),(27.4,49.6),(27.9,48.1),(28.8,49.1),(29.7,49.6),(30.4,50.0),(31.3,48.1),
    (32.1,47.8),(32.6,47.8),(33.1,46.6),(35.0,44.4),(35.3,46.6),(36.3,47.2),(36.8,46.6),(37.2,45.3),
    (36.1,44.4),
    (21.1,47.2),(21.9,46.6),(22.7,45.3),(23.4,46.6),(24.2,46.3),(25.0,47.2),(25.7,45.3),(26.4,46.3),
    (27.5,45.7),(28.4,46.3),(29.2,45.3),(30.1,45.3),(31.0,45.7),(31.6,42.1),(33.5,43.5),
    (21.3,42.9),(22.1,42.1),(23.1,43.5),(23.8,42.5),(24.5,43.5),(25.5,42.5),(26.0,43.5),(26.6,41.6),
    (27.2,43.5),(28.2,42.1),(28.6,42.9),(29.7,40.7),(30.6,40.7),(32.2,42.5),(33.2,40.3),
    (19.7,40.3),(20.3,42.5),(21.0,37.9),(21.7,39.2),(22.4,36.9),(23.8,40.7),(28.1,39.7),(28.8,39.2),
    (28.0,37.3),(28.3,35.4),(28.9,34.7),(29.5,35.4),(30.4,35.4),(27.4,36.0),(25.7,35.0),(26.9,35.4),
    (16.9,37.9),(32.4,33.2),(33.8,34.7),(36.7,35.0),(29.1,33.6),(28.4,33.2),(27.2,25.7),
]

tg_points = [jp_tg_points, ko_tg_points, mo_tg_points]
hdl_points = [jp_hdl_points, ko_hdl_points, mo_hdl_points]

# ---------------- layout ----------------
W, H = 907, 622
fig = plt.figure(figsize=(W / 100, H / 100), dpi=100)

def frac_rect(left, top, right, bottom):
    return [left / W, 1 - bottom / H, (right - left) / W, (bottom - top) / H]

col_lr = [(80, 316), (369, 605), (665, 902)]
row_tb = [(41, 281), (332, 573)]

def style_axes(ax, show_ylabels):
    for sp in ax.spines.values():
        sp.set_linestyle((0, (9, 3)))
        sp.set_color("#707070")
        sp.set_linewidth(0.8)
    ax.tick_params(axis="y", direction="out", length=5, width=1.6, color="black",
                   labelsize=10, pad=3, labelleft=show_ylabels)
    ax.tick_params(axis="x", direction="out", length=4, width=1.2, color="black",
                   labelsize=13, pad=3)
    ax.set_xlabel("")
    ax.set_ylabel("")

def scatter(ax, pts, ylab):
    df = pd.DataFrame(pts, columns=["BMI", ylab])
    sns.scatterplot(data=df, x="BMI", y=ylab, ax=ax, marker="o", s=16,
                    facecolor="none", edgecolor="black", linewidth=0.85, legend=False)

def fig_text(px, py, s, **kw):
    fig.text(px / W, 1 - py / H, s, **kw)

eq_tg_pos = [((139, 257), (139, 273)), ((436, 255), (436, 271)), ((724, 241), (725, 257))]
eq_hdl_pos = [((133, 352), (133, 368)), ((418, 350), (418, 367)), ((716, 349), (716, 366))]

for j in range(3):
    l, r = col_lr[j]
    # Triglyceride row
    t, b = row_tb[0]
    ax = fig.add_axes(frac_rect(l, t, r, b))
    scatter(ax, tg_points[j], "lnTG")
    ax.set_xlim(14.35, 40)
    ax.set_ylim(2.35, 7.0)
    ax.set_xticks(bmi_ticks)
    ax.set_yticks(tg_ticks)
    ax.set_yticklabels(tg_tick_labels)
    style_axes(ax, j == 0)
    for (px, py), s in zip(eq_tg_pos[j], tg_equations[j]):
        fig_text(px, py, s, fontsize=10.2, ha="left", va="center")

    # HDL row
    t, b = row_tb[1]
    ax = fig.add_axes(frac_rect(l, t, r, b))
    scatter(ax, hdl_points[j], "HDL")
    ax.set_xlim(14.35, 40)
    ax.set_ylim(15.5, 150.5)
    ax.set_xticks(bmi_ticks)
    ax.set_yticks(hdl_ticks)
    style_axes(ax, j == 0)
    for (px, py), s in zip(eq_hdl_pos[j], hdl_equations[j]):
        fig_text(px, py, s, fontsize=10.2, ha="left", va="center")

# titles and axis labels
for (px, py), name in zip([(197, 24), (488, 24), (788, 24)], populations):
    fig_text(px, py, name, fontsize=16, fontweight="bold", ha="center", va="center")
for px, py in [(190, 606), (503, 610), (795, 611)]:
    fig_text(px, py, "BMI", fontsize=17, ha="center", va="center")
fig_text(19, 172, "Triglyceride (mg/dl)", fontsize=15, fontweight="bold",
         rotation=90, ha="center", va="center")
fig_text(22, 462, "HDL-C (mg/dl)", fontsize=14.5, fontweight="bold",
         rotation=90, ha="center", va="center")

fig.savefig("out.png", dpi=100)
